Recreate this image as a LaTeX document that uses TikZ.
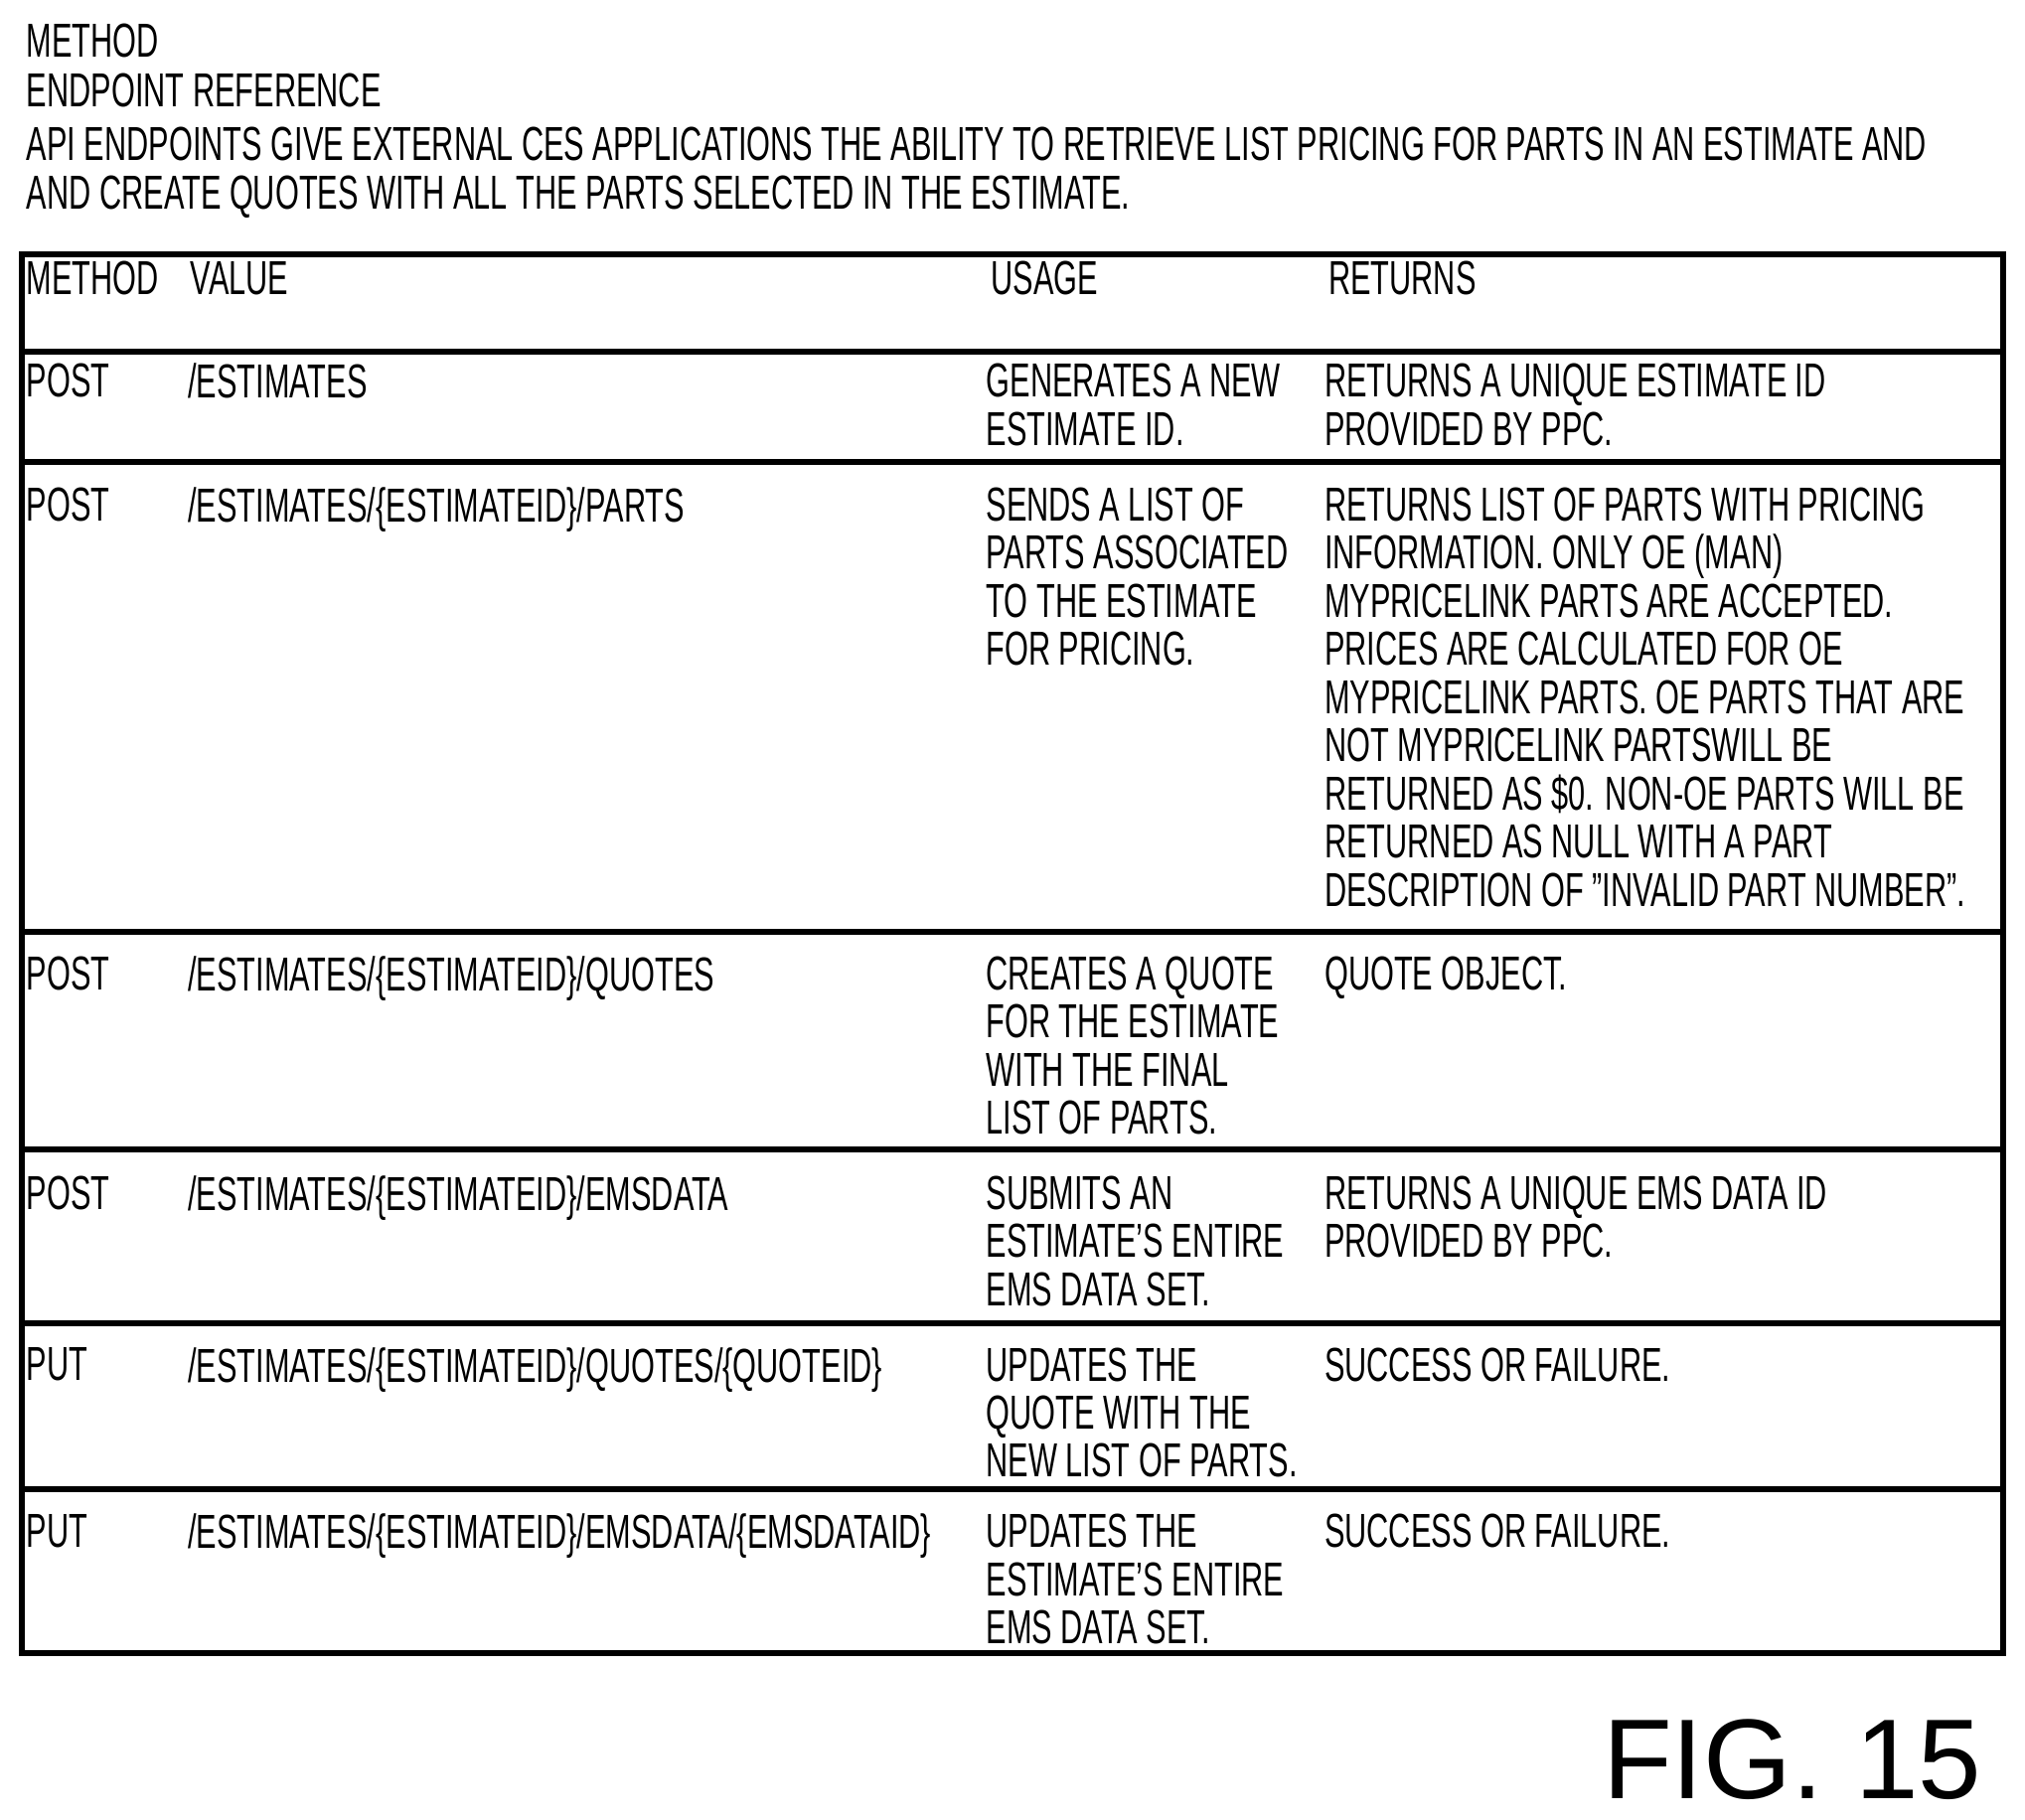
\documentclass[tikz,border=0pt]{standalone}
\usepackage{fontspec}
\setmainfont[FakeStretch=0.64]{Liberation Sans}
\newfontfamily\figfont{Liberation Sans}
\begin{document}
\begin{tikzpicture}[x=0.01cm,y=-0.01cm]
            \tikzstyle{cell} = [anchor=north west, inner sep=0pt, align=left, font=\fontsize{10.5}{10.6}\selectfont]
            \tikzstyle{grid} = [line width=1.3pt]
            \useasboundingbox (0,0) rectangle (1568,1409);
            \node[cell] (t1) at (20,18) {METHOD};
            \node[cell] (t2) at (20,56) {ENDPOINT REFERENCE};
            \node[cell] (t3) at (20,98) {API ENDPOINTS GIVE EXTERNAL CES APPLICATIONS THE ABILITY TO RETRIEVE LIST PRICING FOR PARTS IN AN ESTIMATE AND\\AND CREATE QUOTES WITH ALL THE PARTS SELECTED IN THE ESTIMATE.};
            \draw[grid] (17,197) rectangle (1551,1280);
            \foreach \y in {272,358,722,890,1025,1153}
                \draw[grid] (17,\y) -- (1551,\y);
            \node[cell] (mh) at (20,202) {METHOD};
            \node[cell] (vh) at (147,202) {VALUE};
            \node[cell] (uh) at (767,202) {USAGE};
            \node[cell] (rh) at (1028,202) {RETURNS};
            \node[cell] (m1) at (20,281) {POST};
            \node[cell] (v1) at (145,281) {/ESTIMATES};
            \node[cell] (u1) at (763,281) {GENERATES A NEW\\ESTIMATE ID.};
            \node[cell] (r1) at (1025,281) {RETURNS A UNIQUE ESTIMATE ID\\PROVIDED BY PPC.};
            \node[cell] (m2) at (20,377) {POST};
            \node[cell] (v2) at (145,377) {/ESTIMATES/\{ESTIMATEID\}/PARTS};
            \node[cell] (u2) at (763,377) {SENDS A LIST OF\\PARTS ASSOCIATED\\TO THE ESTIMATE\\FOR PRICING.};
            \node[cell] (r2) at (1025,377) {RETURNS LIST OF PARTS WITH PRICING\\INFORMATION. ONLY OE (MAN)\\MYPRICELINK PARTS ARE ACCEPTED.\\PRICES ARE CALCULATED FOR OE\\MYPRICELINK PARTS. OE PARTS THAT ARE\\NOT MYPRICELINK PARTSWILL BE\\RETURNED AS \$0. NON-OE PARTS WILL BE\\RETURNED AS NULL WITH A PART\\DESCRIPTION OF "INVALID PART NUMBER".};
            \node[cell] (m3) at (20,740) {POST};
            \node[cell] (v3) at (145,740) {/ESTIMATES/\{ESTIMATEID\}/QUOTES};
            \node[cell] (u3) at (763,740) {CREATES A QUOTE\\FOR THE ESTIMATE\\WITH THE FINAL\\LIST OF PARTS.};
            \node[cell] (r3) at (1025,740) {QUOTE OBJECT.};
            \node[cell] (m4) at (20,910) {POST};
            \node[cell] (v4) at (145,910) {/ESTIMATES/\{ESTIMATEID\}/EMSDATA};
            \node[cell] (u4) at (763,910) {SUBMITS AN\\ESTIMATE'S ENTIRE\\EMS DATA SET.};
            \node[cell] (r4) at (1025,910) {RETURNS A UNIQUE EMS DATA ID\\PROVIDED BY PPC.};
            \node[cell] (m5) at (20,1043) {PUT};
            \node[cell] (v5) at (145,1043) {/ESTIMATES/\{ESTIMATEID\}/QUOTES/\{QUOTEID\}};
            \node[cell] (u5) at (763,1043) {UPDATES THE\\QUOTE WITH THE\\NEW LIST OF PARTS.};
            \node[cell] (r5) at (1025,1043) {SUCCESS OR FAILURE.};
            \node[cell] (m6) at (20,1172) {PUT};
            \node[cell] (v6) at (145,1172) {/ESTIMATES/\{ESTIMATEID\}/EMSDATA/\{EMSDATAID\}};
            \node[cell] (u6) at (763,1172) {UPDATES THE\\ESTIMATE'S ENTIRE\\EMS DATA SET.};
            \node[cell] (r6) at (1025,1172) {SUCCESS OR FAILURE.};
            \node[anchor=east, inner sep=0pt, font=\figfont\fontsize{25}{25}\selectfont] (fig) at (1535,1363) {FIG. 15};
        \end{tikzpicture}
\end{document}
